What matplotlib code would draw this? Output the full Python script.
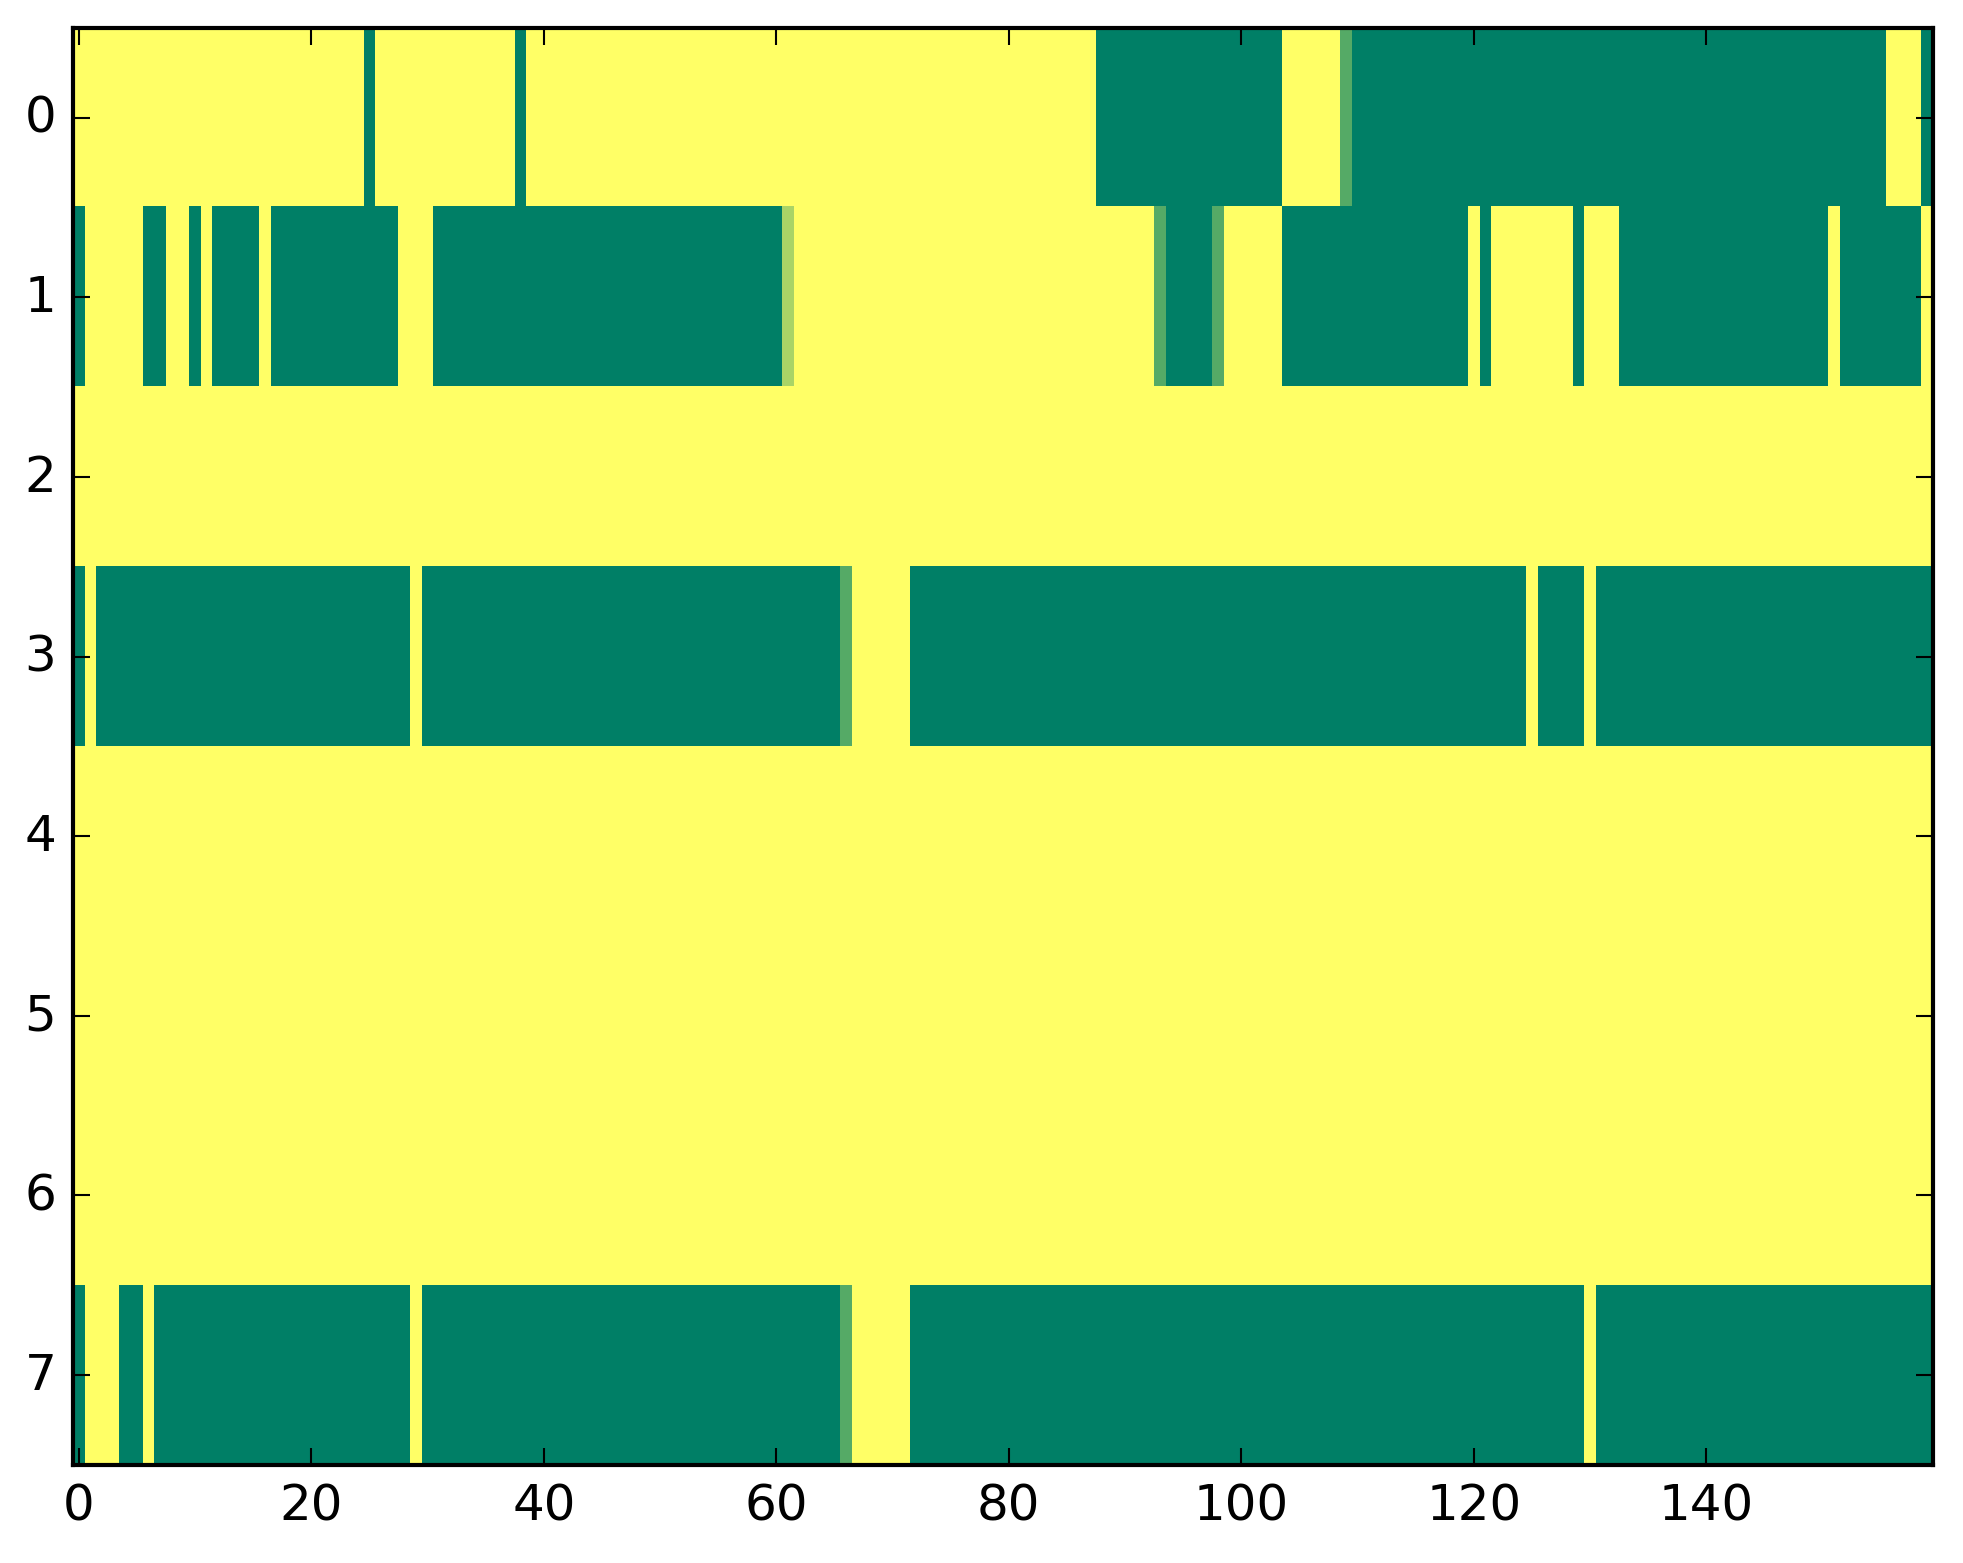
import matplotlib
matplotlib.use("Agg")
import matplotlib.pyplot as plt
import numpy as np

plt.style.use('classic')

n_rows = 8
n_cols = 160

# green runs (value 0) per row, as (first, last) column, inclusive
row0_green = [(25, 25), (38, 38), (88, 103), (110, 155), (159, 159)]
row1_green = [(0, 0), (6, 7), (10, 10), (12, 15), (17, 27), (31, 60), (94, 97),
              (104, 119), (121, 121), (129, 129), (133, 150), (152, 158)]
row3_green = [(0, 0), (2, 28), (30, 65), (72, 124), (126, 129), (131, 159)]
row7_green = [(0, 0), (4, 5), (7, 28), (30, 65), (72, 129), (131, 159)]

# single cells with in-between values
row0_partial = {109: 1 / 3}
row1_partial = {61: 2 / 3, 93: 1 / 3, 98: 1 / 3}
row3_partial = {66: 1 / 3}
row7_partial = {66: 1 / 3}

green_runs = {0: row0_green, 1: row1_green, 3: row3_green, 7: row7_green}
partials = {0: row0_partial, 1: row1_partial, 3: row3_partial, 7: row7_partial}

data = np.ones((n_rows, n_cols))
for r, runs in green_runs.items():
    for a, b in runs:
        data[r, a:b + 1] = 0.0
for r, cells in partials.items():
    for c, v in cells.items():
        data[r, c] = v

fig = plt.figure(figsize=(1963 / 300, 1564 / 300), dpi=300)
ax = fig.add_axes([0.0372, 0.0627, 0.9475, 0.9188])
ax.imshow(data, cmap='summer', vmin=0, vmax=1, aspect='auto',
          interpolation='nearest')
ax.set_xlim(-0.5, n_cols - 0.5)
ax.set_ylim(n_rows - 0.5, -0.5)
ax.set_xticks(np.arange(0, 141, 20))
ax.set_yticks(np.arange(0, 8))

fig.savefig('out.png', dpi=300)
